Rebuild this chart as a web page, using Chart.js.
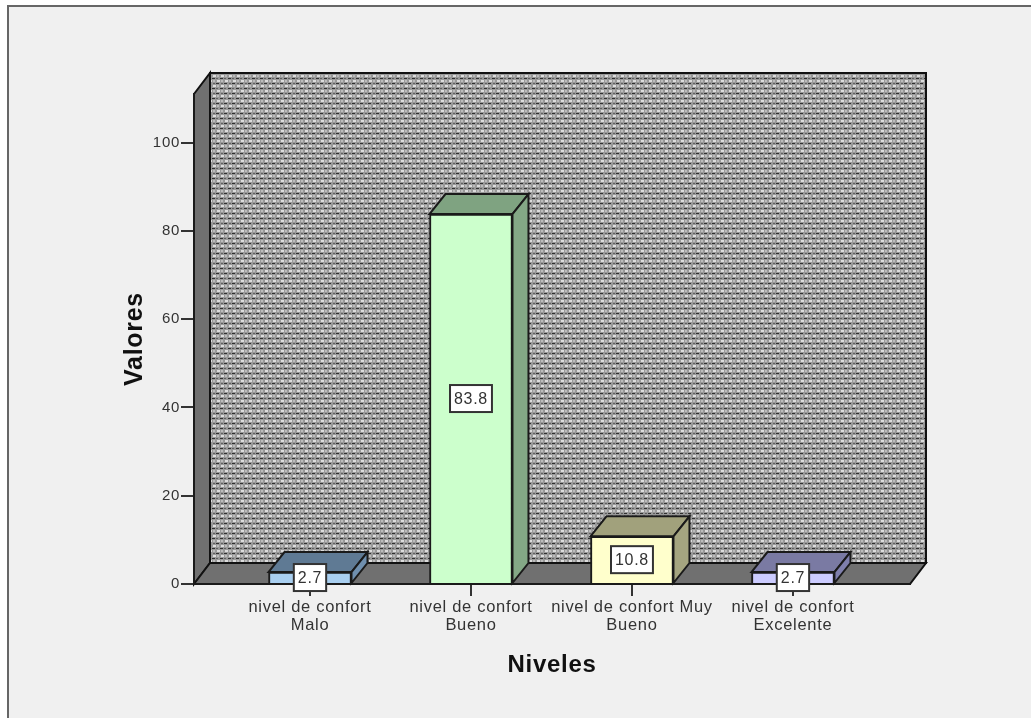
<!DOCTYPE html>
<html><head><meta charset="utf-8">
<style>html,body{margin:0;padding:0;background:#fff;overflow:hidden}
#w{position:relative;width:1031px;height:718px}
canvas{filter:blur(0.5px)}</style>
<script src="https://cdn.jsdelivr.net/npm/chart.js@4/dist/chart.umd.min.js"></script>
</head><body><div id="w"><canvas id="c" width="1031" height="718"></canvas></div>
<script>
const categories = [["nivel de confort","Malo"],["nivel de confort","Bueno"],["nivel de confort Muy","Bueno"],["nivel de confort","Excelente"]];
const values = [2.7,83.8,10.8,2.7];
const yTicks = [0,20,40,60,80,100];
const frontColors = ['#a9cff0','#ccffcc','#ffffcc','#ccccff'];
const topColors = ['#5f7a94','#7fa381','#a1a17c','#7a7aa3'];
const sideColors = ['#6f8fae','#84a886','#a5a580','#7f7fac'];
const DX=16, DY=-21, BDY=-20;

function wallPattern(ctx){
  const p=document.createElement('canvas');p.width=8;p.height=10;
  const g=p.getContext('2d');
  g.fillStyle='#999';g.fillRect(0,0,8,10);
  g.fillStyle='#dcdcdc';
  g.fillRect(1,0,3,2);g.fillRect(5,5,3,2);
  g.fillStyle='#bcbcbc';
  g.fillRect(5,0,2,2);g.fillRect(1,5,2,2);
  g.fillStyle='#303030';
  g.fillRect(0,3,3,1);g.fillRect(4,8,3,1);
  g.fillStyle='#606060';
  g.fillRect(5,3,2,1);g.fillRect(0,8,2,1);
  return ctx.createPattern(p,'repeat');
}
function poly(ctx,pts,fill,stroke,lw){
  ctx.beginPath();pts.forEach((q,i)=>i?ctx.lineTo(q[0],q[1]):ctx.moveTo(q[0],q[1]));ctx.closePath();
  if(fill){ctx.fillStyle=fill;ctx.fill();}
  if(stroke){ctx.strokeStyle=stroke;ctx.lineWidth=lw||2;ctx.lineJoin='miter';ctx.stroke();}
}
const scene={
  id:'scene',
  beforeDraw(ch){
    const c=ch.ctx;
    c.save();
    c.fillStyle='#fff';c.fillRect(0,0,1031,718);
    c.fillStyle='#f0f0f0';c.fillRect(8,6,1023,712);
    c.strokeStyle='#666';c.lineWidth=2;
    c.beginPath();c.moveTo(8,718);c.lineTo(8,6);c.lineTo(1031,6);c.stroke();
    const a=ch.chartArea,l=a.left,r=a.right,t=a.top,b=a.bottom;
    poly(c,[[l+DX,t+DY],[r+DX,t+DY],[r+DX,b+DY],[l+DX,b+DY]],wallPattern(c),'#111',2);
    poly(c,[[l,t],[l+DX,t+DY],[l+DX,b+DY],[l,b]],'#707070','#111',2);
    poly(c,[[l,b],[l+DX,b+DY],[r+DX,b+DY],[r,b]],'#707070','#111',2);
    c.restore();
    c.letterSpacing='0.7px';
  },
  afterDatasetsDraw(ch){
    const c=ch.ctx,els=ch.getDatasetMeta(0).data;
    c.save();
    els.forEach((e,i)=>{
      const x0=e.x-e.width/2,x1=e.x+e.width/2,y=e.y,b=e.base;
      poly(c,[[x0,y],[x0+DX,y+BDY],[x1+DX,y+BDY],[x1,y]],topColors[i],'#1a1a1a',2);
      poly(c,[[x1,y],[x1+DX,y+BDY],[x1+DX,b+BDY],[x1,b]],sideColors[i],'#1a1a1a',2);
    });
    c.font='16px "Liberation Sans"';c.textAlign='center';c.textBaseline='middle';
    els.forEach((e,i)=>{
      const s=values[i].toFixed(1),w=c.measureText(s).width+8,h=27,cy=(e.y+e.base)/2;
      c.fillStyle='#fff';c.strokeStyle='#333';c.lineWidth=2;
      c.fillRect(e.x-w/2,cy-h/2,w,h);c.strokeRect(e.x-w/2,cy-h/2,w,h);
      c.fillStyle='#333';c.fillText(s,e.x,cy+1);
    });
    c.restore();
  }
};
new Chart(document.getElementById('c'),{
  type:'bar',
  data:{datasets:[{
    data:values.map((v,i)=>({x:i,y:v})),
    backgroundColor:frontColors,borderColor:'#1a1a1a',borderWidth:2,barThickness:83
  }]},
  options:{
    responsive:false,animation:false,
    layout:{padding:{left:0,right:121,top:94,bottom:0}},
    plugins:{legend:{display:false},tooltip:{enabled:false}},
    scales:{
      x:{type:'linear',offset:false,min:-0.7205,max:3.727,
        afterBuildTicks(s){s.ticks=categories.map((_,i)=>({value:i}));},
        afterFit(s){s.height=134;},
        grid:{display:true,offset:false,drawOnChartArea:false,drawTicks:true,tickLength:12,tickColor:'#333',lineWidth:2},
        border:{display:true,color:'#1a1a1a',width:2},
        ticks:{autoSkip:false,maxRotation:0,minRotation:0,padding:2,color:'#333',
          font:{family:'"Liberation Sans"',size:16.5,lineHeight:1.1},
          callback:v=>categories[v]},
        title:{display:true,text:'Niveles',color:'#111',font:{family:'"Liberation Sans"',size:24,weight:'bold'},padding:{top:0,bottom:38}}
      },
      y:{min:0,max:111,
        afterBuildTicks(s){s.ticks=yTicks.map(v=>({value:v}));},
        afterFit(s){s.width=194;},
        grid:{display:true,drawOnChartArea:false,tickLength:13,tickColor:'#333',lineWidth:2},
        border:{display:true,color:'#1a1a1a',width:2},
        ticks:{padding:1,color:'#333',font:{family:'"Liberation Sans"',size:15}},
        title:{display:true,text:'Valores',color:'#111',font:{family:'"Liberation Sans"',size:25,weight:'bold'},padding:{top:120,bottom:0}}
      }
    }
  },
  plugins:[scene]
});
</script></body></html>
